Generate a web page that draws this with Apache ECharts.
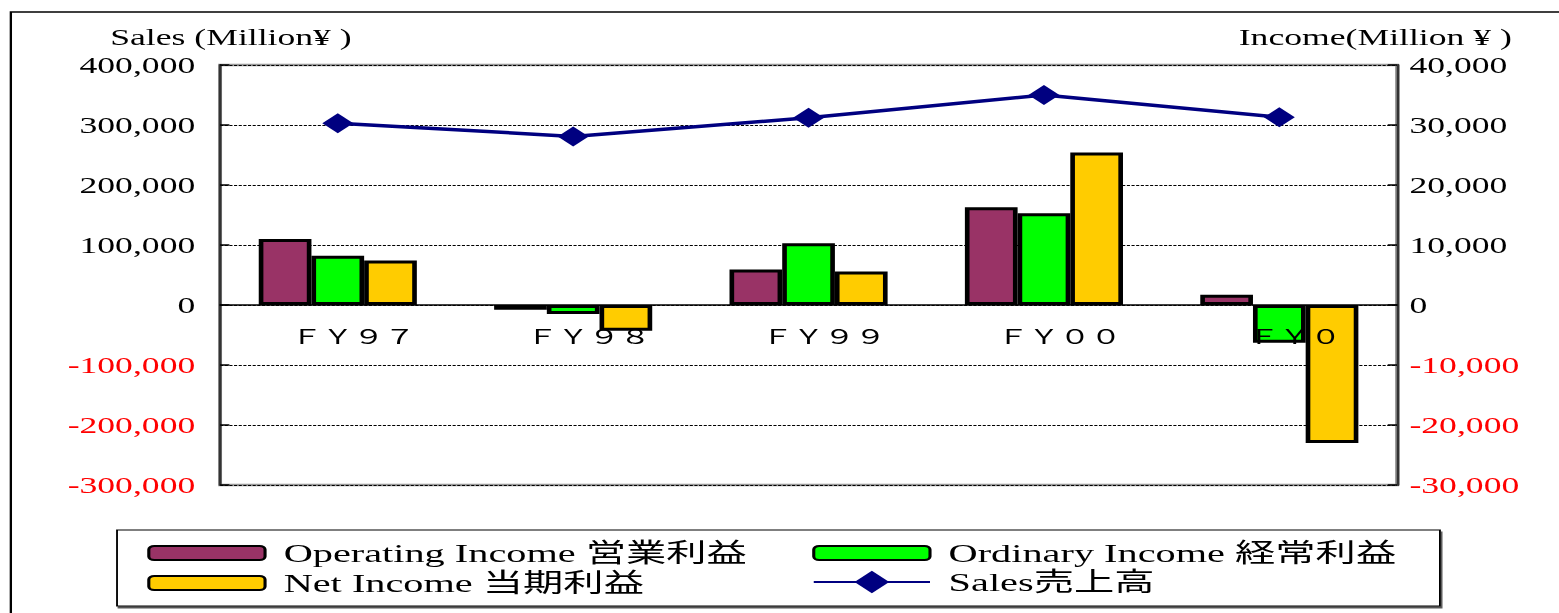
<!DOCTYPE html>
<html>
<head>
<meta charset="utf-8">
<title>Sales and Income FY97-FY01</title>
<script src="https://cdn.jsdelivr.net/npm/echarts@6/dist/echarts.min.js"></script>
<style>
  html, body { margin: 0; padding: 0; background: #fff; overflow: hidden; }
  /* the original picture is stretched sideways, so the chart is drawn narrow and widened */
  #chart { width: 1006px; height: 613px; transform: scaleX(1.55); transform-origin: 0 0; }
</style>
</head>
<body>
<div id="chart"></div>
<script>
const categories = ['ＦＹ９７', 'ＦＹ９８', 'ＦＹ９９', 'ＦＹ００', 'ＦＹ０']
// Million yen
const operatingIncome = [11000, -800, 5900, 16300, 1700]
const ordinaryIncome = [8200, -1500, 10300, 15300, -6300]
const netIncome = [7400, -4300, 5600, 25400, -23000]
const sales = [303000, 281000, 312000, 350000, 313000]

const seriesNames = ['Operating Income 営業利益', 'Ordinary Income 経常利益', 'Net Income 当期利益', 'Sales売上高']

const serif = '"Liberation Serif", "Times New Roman", "Noto Sans CJK JP", serif'

const fmt = v => Number(v).toLocaleString('en-US')
const negRed = v => (Number(v) < 0 ? '#FF0000' : '#000')

const chart = echarts.init(document.getElementById('chart'), null, { renderer: 'svg' })

const barStyle = color => ({
  color: color,
  borderColor: '#000',
  borderWidth: 3
})

const legendBase = {
  orient: 'vertical',
  selectedMode: false,
  itemWidth: 75,
  itemHeight: 14,
  itemGap: 4,
  textStyle: {
    fontFamily: serif,
    fontSize: 26,
    lineHeight: 26,
    color: '#000',
    padding: [0, 0, 0, 7]
  }
}

chart.setOption({
  animation: false,
  textStyle: { fontFamily: serif },
  graphic: [
    {
      type: 'rect',
      shape: { x: 7, y: 12, width: 1100, height: 700 },
      style: { fill: 'none', stroke: '#000', lineWidth: 1.5 }
    },
    {
      type: 'rect',
      shape: { x: 75.5, y: 530, width: 853.5, height: 76 },
      style: {
        fill: '#fff', stroke: '#000', lineWidth: 1.2,
        shadowColor: '#555', shadowOffsetX: 1, shadowOffsetY: 2, shadowBlur: 0
      }
    }
  ],
  legend: [
    Object.assign({}, legendBase, { left: 90, top: 535, data: [seriesNames[0], seriesNames[2]] }),
    Object.assign({}, legendBase, { left: 519, top: 535, data: [seriesNames[1]] }),
    Object.assign({}, legendBase, { left: 519, top: 564, itemHeight: 28, data: [seriesNames[3]] })
  ],
  grid: {
    left: 142,
    right: 104.7,
    top: 65,
    bottom: 128,
    show: true,
    borderColor: '#999',
    borderWidth: 2.5,
    backgroundColor: 'transparent'
  },
  xAxis: {
    type: 'category',
    data: categories,
    z: 5,
    axisLine: { onZero: true, lineStyle: { color: '#000', width: 1.5 } },
    axisTick: { inside: true, length: 4, lineStyle: { color: '#000', width: 1 } },
    axisLabel: {
      interval: 0,
      margin: -159, // labels sit just under the zero line
      color: '#000',
      fontFamily: '"Noto Sans CJK JP", sans-serif',
      fontSize: 20,
      padding: [0, 0, 0, 20]
    },
    splitLine: { show: false }
  },
  yAxis: [
    {
      type: 'value',
      name: 'Sales (Million¥ )',
      nameLocation: 'end',
      nameGap: 17,
      nameTextStyle: { fontFamily: serif, fontSize: 23, color: '#000', padding: [0, 0, 0, 14] },
      min: -300000,
      max: 400000,
      interval: 100000,
      position: 'left',
      axisLine: { show: true, lineStyle: { color: '#333', width: 1.8 } },
      axisTick: { show: true, inside: true, length: 6, lineStyle: { color: '#000', width: 1.5 } },
      axisLabel: { fontFamily: serif, fontSize: 23, margin: 16, formatter: fmt, color: negRed },
      splitLine: { show: true, lineStyle: { color: '#000', width: 1, type: [2, 1] } }
    },
    {
      type: 'value',
      name: 'Income(Million ¥ )',
      nameLocation: 'end',
      nameGap: 17,
      nameTextStyle: { fontFamily: serif, fontSize: 23, color: '#000', padding: [0, 28, 0, 0] },
      min: -30000,
      max: 40000,
      interval: 10000,
      position: 'right',
      axisLine: { show: true, lineStyle: { color: '#333', width: 1.8 } },
      axisTick: { show: true, inside: true, length: 6, lineStyle: { color: '#000', width: 1.5 } },
      axisLabel: { fontFamily: serif, fontSize: 23, margin: 8, formatter: fmt, color: negRed },
      splitLine: { show: false }
    }
  ],
  series: [
    {
      name: seriesNames[0],
      type: 'bar',
      yAxisIndex: 1,
      data: operatingIncome,
      barWidth: 34,
      barGap: '0%',
      itemStyle: barStyle('#993366')
    },
    {
      name: seriesNames[1],
      type: 'bar',
      yAxisIndex: 1,
      data: ordinaryIncome,
      barWidth: 34,
      barGap: '0%',
      itemStyle: barStyle('#00FF00')
    },
    {
      name: seriesNames[2],
      type: 'bar',
      yAxisIndex: 1,
      data: netIncome,
      barWidth: 34,
      barGap: '0%',
      itemStyle: barStyle('#FFCC00')
    },
    {
      name: seriesNames[3],
      type: 'line',
      yAxisIndex: 0,
      data: sales,
      symbol: 'diamond',
      symbolSize: 20,
      z: 6,
      lineStyle: { color: '#000080', width: 3.5 },
      itemStyle: { color: '#000080' }
    }
  ]
})
</script>
</body>
</html>
